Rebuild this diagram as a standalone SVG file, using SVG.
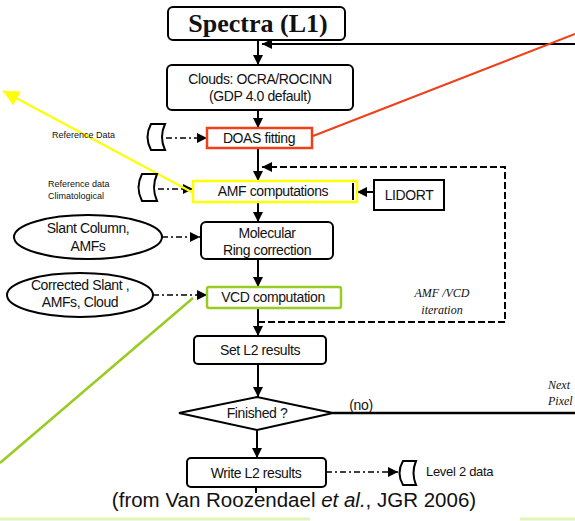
<svg xmlns="http://www.w3.org/2000/svg" width="575" height="521" viewBox="0 0 575 521">
<style>
.box{fill:#fff;stroke:#000;stroke-width:2}
.t{font-family:"Liberation Sans",Arial,sans-serif;font-size:14px;fill:#111;text-anchor:middle;letter-spacing:-0.4px}
.ts{font-family:"Liberation Sans",Arial,sans-serif;font-size:13px;fill:#111;text-anchor:start;letter-spacing:-0.3px}
.s{font-family:"Liberation Sans",Arial,sans-serif;font-size:9px;fill:#111}
.c{stroke:#000;stroke-width:2;fill:none}
.d{stroke:#000;stroke-width:2;fill:none;stroke-dasharray:7 3}
.dd{stroke:#000;stroke-width:1.5;fill:none;stroke-dasharray:6 3 2 3}
.it{font-family:"Liberation Serif",serif;font-style:italic;font-size:12px;fill:#111}
.itc{font-family:"Liberation Serif",serif;font-style:italic;font-size:12px;fill:#111;text-anchor:middle}
.cyl{fill:#fff;stroke:#000;stroke-width:2}
</style>
<defs>
<marker id="ah" viewBox="0 0 10 10" refX="10" refY="5" markerWidth="10" markerHeight="10" markerUnits="userSpaceOnUse" orient="auto"><path d="M0,0 L10,5 L0,10 Z" fill="#000"/></marker>
<marker id="ay" viewBox="0 0 10 10" refX="10" refY="5" markerWidth="16" markerHeight="16" markerUnits="userSpaceOnUse" orient="auto"><path d="M0,0 L10,5 L0,10 Z" fill="#ffff00"/></marker>
</defs>
<rect width="575" height="521" fill="#fff"/>

<g id="connectors">
  <line class="c" x1="575" y1="44" x2="262" y2="44" marker-end="url(#ah)"/>
  <line class="c" x1="258" y1="40" x2="258" y2="65" marker-end="url(#ah)"/>
  <line class="c" x1="258" y1="110" x2="258" y2="128" marker-end="url(#ah)"/>
  <line class="dd" x1="166" y1="138" x2="207" y2="138" marker-end="url(#ah)"/>
  <line class="c" x1="258" y1="148" x2="258" y2="181" marker-end="url(#ah)"/>
  <path class="d" d="M258,322 H505 V167 H262" marker-end="url(#ah)"/>
  <line class="dd" x1="158" y1="189" x2="193" y2="189" marker-end="url(#ah)"/>
  <line class="c" x1="374" y1="192" x2="357" y2="192" marker-end="url(#ah)"/>
  <line class="c" x1="258" y1="202" x2="258" y2="222" marker-end="url(#ah)"/>
  <line class="dd" x1="162" y1="237" x2="200" y2="237" marker-end="url(#ah)"/>
  <line class="c" x1="258" y1="259" x2="258" y2="287" marker-end="url(#ah)"/>
  <line class="dd" x1="153" y1="295" x2="207" y2="295" marker-end="url(#ah)"/>
  <line class="c" x1="258" y1="308" x2="258" y2="336" marker-end="url(#ah)"/>
  <line class="c" x1="258" y1="364" x2="258" y2="397" marker-end="url(#ah)"/>
  <line x1="333" y1="413" x2="575" y2="413" stroke="#000" stroke-width="2.5"/>
  <line class="c" x1="257" y1="430" x2="257" y2="458" marker-end="url(#ah)"/>
  <line class="dd" x1="326" y1="472" x2="398" y2="472" marker-end="url(#ah)"/>
  <line class="c" x1="256" y1="487" x2="256" y2="493"/>
  <line x1="313" y1="136" x2="575" y2="34" stroke="#f0401a" stroke-width="2"/>
  <line x1="199" y1="196" x2="3" y2="91" stroke="#ffff00" stroke-width="2" marker-end="url(#ay)"/>
  <line x1="193" y1="298" x2="0" y2="463" stroke="#99cc22" stroke-width="2.5"/>
</g>

<g id="spectra">
  <rect class="box" x="168" y="7" width="177" height="33" rx="5"/>
  <text x="258" y="32" font-family="Liberation Serif,serif" font-weight="bold" font-size="26" text-anchor="middle" fill="#111">Spectra (L1)</text>
</g>
<g id="clouds">
  <rect class="box" x="167" y="65" width="186" height="45" rx="5"/>
  <text class="t" x="260" y="84">Clouds: OCRA/ROCINN</text>
  <text class="t" x="260" y="101">(GDP 4.0 default)</text>
</g>
<g id="refdata">
  <text class="s" x="52" y="138">Reference Data</text>
  <path class="cyl" d="M151,124 H165 Q159,137 165,150 H151 Q144,137 151,124 Z"/>
</g>
<g id="doas">
  <rect x="207" y="128" width="105" height="20" fill="#fff" stroke="#f0401a" stroke-width="2.5"/>
  <text class="t" x="259" y="143">DOAS fitting</text>
</g>
<g id="refclim">
  <text class="s" x="48" y="187">Reference data</text>
  <text class="s" x="48" y="199">Climatological</text>
  <path class="cyl" d="M142,174 H157 Q151,187.5 157,201 H142 Q135,187.5 142,174 Z"/>
</g>
<g id="amf">
  <rect x="193" y="181" width="164" height="21" fill="#fff" stroke="#ffff00" stroke-width="2.5"/>
  <line x1="353" y1="183" x2="353" y2="200" stroke="#000" stroke-width="2"/>
  <text class="t" x="273" y="196">AMF computations</text>
</g>
<g id="lidort">
  <rect x="374" y="180" width="70" height="30" fill="#fff" stroke="#000" stroke-width="2"/>
  <text class="t" x="409" y="200">LIDORT</text>
</g>
<g id="slant">
  <ellipse class="box" cx="88" cy="237" rx="74" ry="22"/>
  <text class="t" x="88" y="233">Slant Column,</text>
  <text class="t" x="88" y="251">AMFs</text>
</g>
<g id="molecular">
  <rect class="box" x="201" y="222" width="132" height="37" rx="5"/>
  <text class="t" x="267" y="238">Molecular</text>
  <text class="t" x="267" y="255">Ring correction</text>
</g>
<g id="corrected">
  <ellipse class="box" cx="80" cy="295" rx="73" ry="22"/>
  <text class="t" x="80" y="290">Corrected Slant ,</text>
  <text class="t" x="80" y="307">AMFs, Cloud</text>
</g>
<g id="vcd">
  <rect x="207" y="287" width="134" height="21" rx="2" fill="#fff" stroke="#99cc22" stroke-width="2.5"/>
  <text class="t" x="273" y="302">VCD computation</text>
</g>
<g id="iter">
  <text class="itc" x="442" y="297">AMF /VCD</text>
  <text class="itc" x="442" y="314">iteration</text>
</g>
<g id="setl2">
  <rect class="box" x="194" y="336" width="132" height="28" rx="4"/>
  <text class="t" x="260" y="355">Set L2 results</text>
</g>
<g id="finished">
  <polygon points="179,413 257,397 333,413 257,430" fill="#fff" stroke="#000" stroke-width="2"/>
  <text class="t" x="257" y="418">Finished ?</text>
  <text class="t" x="361" y="410">(no)</text>
  <text class="it" x="548" y="389">Next</text>
  <text class="it" x="548" y="405">Pixel</text>
</g>
<g id="writel2">
  <rect class="box" x="187" y="458" width="139" height="29" rx="4"/>
  <text class="t" x="256" y="478">Write L2 results</text>
</g>
<g id="level2">
  <path class="cyl" d="M403,461 H416 Q411,473 416,485 H403 Q396,473 403,461 Z"/>
  <text class="ts" x="426" y="476">Level 2 data</text>
</g>
<g id="caption">
  <text x="294" y="507" font-family="Liberation Sans,Arial,sans-serif" font-size="20.5" text-anchor="middle" fill="#111">(from Van Roozendael <tspan font-style="italic">et al.</tspan>, JGR 2006)</text>
  <line x1="0" y1="519" x2="310" y2="519" stroke="#e4f4b8" stroke-width="3"/>
  <line x1="520" y1="519" x2="575" y2="519" stroke="#e4f4b8" stroke-width="3"/>
</g>
</svg>
